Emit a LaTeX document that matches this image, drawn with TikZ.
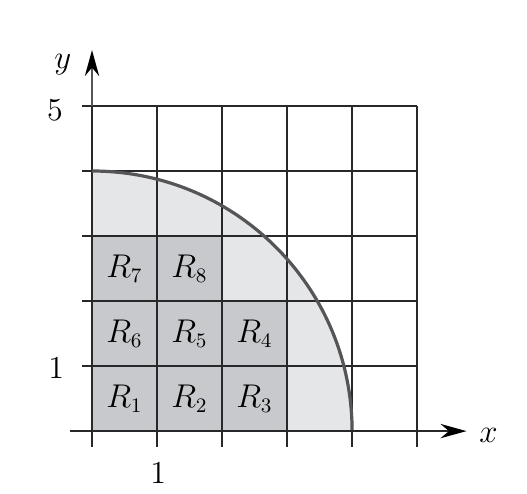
\documentclass[tikz,border=0pt]{standalone}
\usepackage{xcolor}
\usepackage{tikz}
\usetikzlibrary{arrows.meta, positioning}
\definecolor{GrLine}{RGB}{40,40,42}
\definecolor{GrArc}{RGB}{85,85,88}
\definecolor{GrLight}{RGB}{229,230,232}
\definecolor{GrDark}{RGB}{200,201,204}

\begin{document}
\begin{tikzpicture}[
          gl/.style={GrLine, line width=0.9pt},
          ax/.style={GrLine, line width=0.9pt,
                     -{Stealth[length=0.4cm, width=0.22cm, color=black]}},
          lb/.style={font=\fontsize{14}{16}\selectfont},
          rl/.style={font=\fontsize{13.5}{15}\selectfont}
        ]
        \useasboundingbox (-1.415,-0.954) rectangle (6.69,6.63);

        % Quarter disk of radius 4
        \fill[GrLight] (0,0) -- (4,0) arc (0:90:4) -- cycle;

        % Inner squares R1 .. R8
        \foreach \n/\x/\y in {
          1/0/0, 2/1/0, 3/2/0, 4/2/1, 5/1/1, 6/0/1, 7/0/2, 8/1/2} {
          \fill[GrDark] (\x, \y) rectangle ++(1, 1);
          \node[rl] (R\n) at (\x+0.5, \y+0.5) {$R_{\n}$};
        }

        % Grid
        \foreach \y in {1,...,5} {
          \draw[gl] (-0.15, \y) -- (5, \y);
        }
        \foreach \x in {1,...,5} {
          \draw[gl] (\x, -0.24) -- (\x, 5);
        }
        \draw[gl] (0, -0.24) -- (0, 5);

        % Boundary arc
        \draw[GrArc, line width=1.4pt] (4,0) arc (0:90:4);

        % Axes
        \draw[ax] (-0.34, 0) -- (5.76, 0);
        \draw[ax, GrArc] (0, 5) -- (0, 5.86);
        \node[lb] (xl) at (6.1, -0.06) {$x$};
        \node[lb] (yl) at (-0.45, 5.64) {$y$};

        % Tick labels
        \node[lb] (y5) at (-0.57, 4.93) {5};
        \node[lb] (y1) at (-0.55, 0.97) {1};
        \node[lb] (x1) at (1.02, -0.64) {1};
      \end{tikzpicture}
\end{document}
